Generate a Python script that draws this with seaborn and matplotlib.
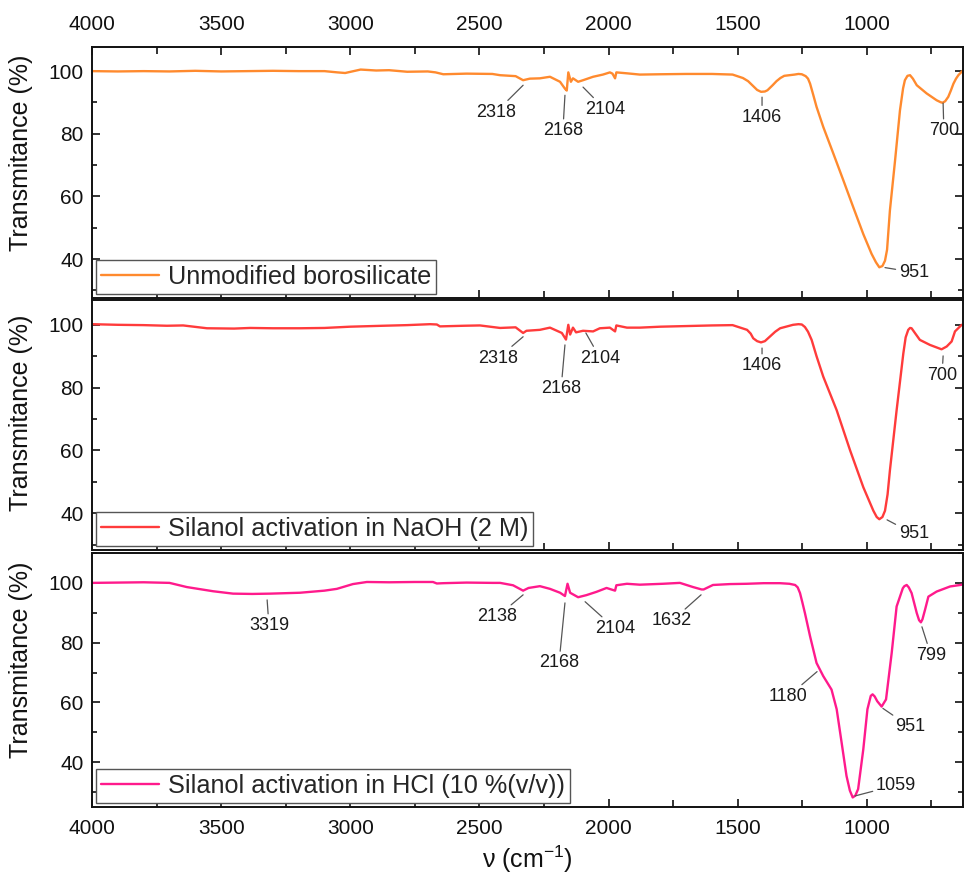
import matplotlib
matplotlib.use("Agg")
import matplotlib.pyplot as plt
import seaborn as sns
import pandas as pd
from matplotlib.ticker import MultipleLocator

# ---------------- data ----------------
wn1 = [4000, 3900, 3800, 3700, 3600, 3500, 3400, 3300, 3200, 3100,
       3050, 3020, 2960, 2900, 2850, 2780, 2700, 2670, 2640, 2550,
       2450, 2420, 2360, 2331, 2305, 2266, 2227, 2188, 2169, 2162,
       2156, 2146, 2138, 2118, 2099, 2060, 2022, 1995, 1985, 1975,
       1970, 1929, 1879, 1800, 1700, 1600, 1520, 1480, 1460, 1440,
       1425, 1410, 1395, 1385, 1365, 1350, 1335, 1320, 1300, 1280,
       1265, 1252, 1237, 1228, 1220, 1208, 1195, 1169, 1130, 1091,
       1053, 1014, 982, 965, 952, 940, 930, 922, 911, 891,
       872, 860, 853, 843, 833, 822, 807, 769, 730, 715,
       707, 697, 685, 675, 665, 655, 646, 627]
t1 = [100.0, 99.9, 100.0, 99.9, 100.1, 99.9, 100.0, 100.1, 100.0, 100.0,
      99.6, 99.4, 100.5, 100.2, 100.3, 99.8, 99.9, 99.6, 99.0, 99.2,
      99.1, 98.7, 98.4, 97.1, 97.6, 97.7, 98.2, 96.6, 94.4, 93.8,
      99.6, 96.6, 97.7, 96.6, 97.1, 98.2, 98.9, 99.6, 99.2, 97.7,
      99.6, 99.3, 98.9, 99.0, 99.1, 99.1, 98.9, 97.8, 96.8, 95.2,
      94.0, 93.4, 93.5, 93.9, 95.5, 96.8, 97.8, 98.5, 98.7, 98.9,
      99.1, 99.0, 98.4, 97.6, 96.0, 92.5, 88.6, 82.2, 73.7, 65.1,
      56.6, 48.0, 41.7, 39.0, 37.4, 37.8, 39.5, 43.0, 55.5, 71.5,
      87.5, 94.5, 97.1, 98.5, 98.7, 97.6, 95.5, 92.9, 90.7, 90.1,
      89.9, 90.4, 91.8, 93.8, 96.0, 97.6, 98.7, 100.3]

wn2 = [4000, 3900, 3800, 3710, 3647, 3555, 3450, 3388, 3300, 3195,
       3100, 3001, 2873, 2780, 2691, 2665, 2653, 2560, 2498, 2420,
       2360, 2331, 2318, 2266, 2227, 2181, 2165, 2156, 2149, 2138,
       2126, 2099, 2060, 2034, 1995, 1975, 1970, 1929, 1879, 1800,
       1700, 1600, 1520, 1464, 1450, 1440, 1425, 1410, 1395, 1375,
       1355, 1336, 1286, 1265, 1252, 1240, 1228, 1214, 1195, 1169,
       1117, 1065, 1014, 975, 962, 952, 940, 930, 920, 911,
       885, 859, 850, 840, 833, 827, 815, 795, 756, 711,
       691, 672, 659, 633]
t2 = [100.2, 100.0, 99.9, 99.7, 99.8, 98.9, 98.8, 99.0, 98.9, 98.9,
      99.0, 99.4, 99.7, 99.9, 100.2, 100.1, 99.5, 99.7, 99.8, 99.0,
      99.2, 97.4, 98.1, 98.4, 99.1, 97.4, 95.3, 100.0, 96.9, 99.1,
      97.6, 98.1, 97.9, 98.9, 99.1, 97.9, 99.8, 99.1, 99.1, 99.4,
      99.6, 99.8, 99.9, 98.4, 97.2, 95.7, 94.8, 94.4, 94.8, 96.3,
      97.8, 98.9, 100.0, 100.2, 100.1, 99.3, 97.8, 95.2, 90.0, 83.5,
      72.8, 60.0, 48.3, 40.8, 38.8, 38.1, 38.8, 40.8, 46.0, 53.6,
      72.8, 90.9, 96.0, 98.4, 99.0, 98.9, 97.5, 95.2, 93.6, 92.2,
      93.1, 94.7, 97.9, 100.0]

wn3 = [4000, 3900, 3800, 3700, 3633, 3531, 3454, 3380, 3311, 3195,
       3100, 3052, 2990, 2936, 2850, 2750, 2680, 2665, 2640, 2550,
       2450, 2420, 2370, 2331, 2310, 2266, 2227, 2188, 2169, 2159,
       2149, 2118, 2086, 2047, 2008, 1975, 1970, 1929, 1879, 1790,
       1724, 1673, 1640, 1632, 1596, 1530, 1465, 1400, 1337, 1300,
       1278, 1268, 1259, 1250, 1240, 1220, 1195, 1169, 1137, 1117,
       1098, 1079, 1066, 1055, 1045, 1034, 1014, 998, 985, 978,
       970, 960, 943, 926, 904, 885, 861, 855, 846, 838,
       827, 807, 798, 791, 785, 775, 762, 730, 678, 639,
       627]
t3 = [100.0, 100.1, 100.2, 100.0, 98.6, 97.2, 96.4, 96.3, 96.4, 96.7,
      97.4, 98.0, 99.6, 100.3, 100.2, 100.3, 100.3, 99.8, 99.9, 100.1,
      100.0, 100.0, 99.2, 97.4, 98.3, 98.9, 98.0, 96.7, 95.6, 99.7,
      96.7, 95.2, 95.9, 97.0, 98.3, 97.4, 99.2, 99.7, 99.4, 99.7,
      100.0, 98.6, 97.8, 97.8, 99.3, 99.6, 99.7, 99.9, 99.9, 99.7,
      99.3, 98.5, 96.6, 93.5, 89.9, 82.1, 73.2, 68.8, 64.3, 57.7,
      46.6, 35.4, 30.5, 28.2, 28.8, 31.0, 44.3, 57.7, 62.2, 62.7,
      62.0, 60.4, 58.6, 61.0, 76.6, 92.1, 98.2, 98.9, 99.3, 98.5,
      96.6, 89.9, 87.5, 86.8, 87.8, 91.0, 95.4, 97.1, 98.8, 99.3,
      99.5]

labels = ["Unmodified borosilicate",
          "Silanol activation in NaOH (2 M)",
          "Silanol activation in HCl (10 %(v/v))"]
colors = ["#FF8A2E", "#FF3B3B", "#FF1A8C"]

# annotations: (label, anchor wn, anchor T, text wn, text T)
ann1 = [("2318", 2331, 95.5, 2436, 86.9),
        ("2168", 2169, 92.3, 2177, 81.0),
        ("2104", 2099, 94.9, 2014, 87.8),
        ("1406", 1406, 91.7, 1406, 85.3),
        ("951", 930, 37.3, 818, 35.8),
        ("700", 705, 89.8, 702, 81.0)]
ann2 = [("2318", 2331, 96.2, 2428, 89.4),
        ("2168", 2169, 93.6, 2184, 79.7),
        ("2104", 2088, 97.4, 2033, 89.4),
        ("1406", 1406, 92.6, 1406, 87.0),
        ("951", 922, 37.9, 818, 33.4),
        ("700", 705, 90.1, 709, 84.0)]
ann3 = [("3319", 3322, 94.3, 3315, 85.7),
        ("2138", 2331, 96.0, 2432, 88.7),
        ("2168", 2169, 93.3, 2192, 73.2),
        ("2104", 2091, 93.7, 1975, 84.7),
        ("1632", 1642, 96.0, 1755, 87.3),
        ("1180", 1193, 70.3, 1305, 62.0),
        ("951", 938, 58.0, 833, 51.8),
        ("799", 787, 85.3, 752, 75.8),
        ("1059", 1046, 28.7, 887, 32.3)]

series = [(wn1, t1, ann1), (wn2, t2, ann2), (wn3, t3, ann3)]
ylims = [(27.6, 107.7), (28.3, 107.9), (25.0, 110.0)]
ylabel_y = [0.58, 0.55, 0.58]

# ---------------- style ----------------
sns.set_theme(style="ticks")
plt.rcParams["font.family"] = ["Liberation Sans", "DejaVu Sans"]
plt.rcParams["mathtext.fontset"] = "custom"
plt.rcParams["mathtext.rm"] = "Liberation Sans"

fig = plt.figure(figsize=(9.64, 8.82), dpi=100)
W, H = 964, 882
boxes = [(47, 298), (300, 550), (553, 807)]
left_px, right_px = 92, 963

axes = []
for i, ((wn, tt, ann), (top, bot)) in enumerate(zip(series, boxes)):
    ax = fig.add_axes([left_px / W, 1 - bot / H, (right_px - left_px) / W, (bot - top) / H])
    axes.append(ax)
    df = pd.DataFrame({"wn": wn, "T": tt})
    sns.lineplot(data=df, x="wn", y="T", ax=ax, color=colors[i], lw=1.7,
                 label=labels[i], estimator=None, sort=False)
    ax.set_xlim(4000, 628)
    ax.set_ylim(*ylims[i])
    ax.xaxis.set_major_locator(MultipleLocator(500))
    ax.xaxis.set_minor_locator(MultipleLocator(250))
    ax.yaxis.set_major_locator(MultipleLocator(20))
    ax.yaxis.set_minor_locator(MultipleLocator(10))
    ax.set_yticks([40, 60, 80, 100])
    for s in ax.spines.values():
        s.set_linewidth(1.4)
        s.set_color("#111111")
    ax.tick_params(axis="both", which="both", direction="in", colors="#111111",
                   labelsize=15, width=1.2)
    ax.tick_params(axis="y", which="major", length=6, pad=6, right=True, left=True)
    ax.tick_params(axis="y", which="minor", length=3.5, right=True, left=True)
    ax.tick_params(axis="x", which="major", length=6, pad=9)
    ax.tick_params(axis="x", which="minor", length=5)
    ax.tick_params(axis="y", labelright=False)
    if i == 0:
        ax.tick_params(axis="x", which="both", top=True, bottom=True,
                       labeltop=True, labelbottom=False)
    elif i == 1:
        ax.tick_params(axis="x", which="both", top=False, bottom=True,
                       labeltop=False, labelbottom=False)
    else:
        ax.tick_params(axis="x", which="both", top=False, bottom=True,
                       labeltop=False, labelbottom=True)
    ax.set_ylabel("Transmitance (%)", fontsize=18, color="#111111")
    ax.yaxis.set_label_coords(-0.068, ylabel_y[i])
    ax.set_xlabel("")
    ax.grid(False)

    leg = ax.legend(loc="lower left", fontsize=18.2, handlelength=2.3,
                    handletextpad=0.35, borderpad=0.2, borderaxespad=0.15,
                    frameon=True, fancybox=False, framealpha=1)
    leg.get_frame().set_edgecolor("#555555")
    leg.get_frame().set_linewidth(1.0)
    for line in leg.get_lines():
        line.set_linewidth(1.7)

    for (txt, ax_wn, ax_t, tx_wn, tx_t) in ann:
        ax.annotate(txt, xy=(ax_wn, ax_t), xytext=(tx_wn, tx_t),
                    ha="center", va="center", fontsize=13, color="#1a1a1a",
                    arrowprops=dict(arrowstyle="-", color="#555555", lw=0.9,
                                    shrinkA=0, shrinkB=0))

axes[-1].set_xlabel(r"ν (cm$^{-1}$)", fontsize=18, color="#111111", labelpad=4)

fig.savefig("out.png", dpi=100)
